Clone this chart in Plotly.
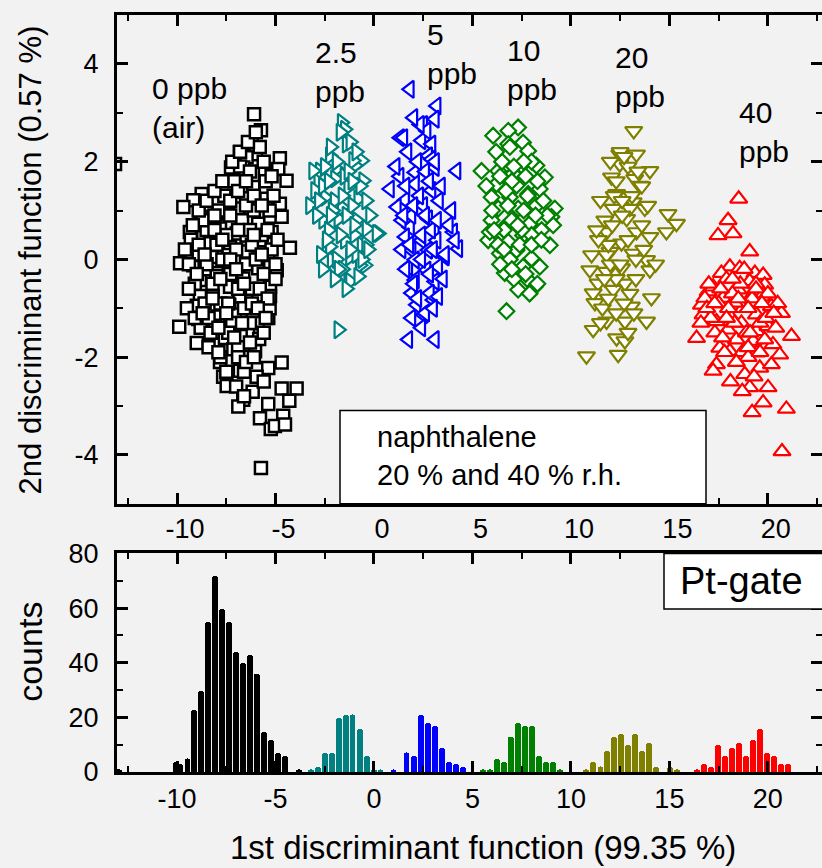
import plotly.graph_objects as go

# ---------------- data ----------------
air_x = [-6.09, -5.74, -6.21, -5.99, -6.81, -6.47, -4.78, -7.26, -6.64, -4.86, -5.54, -4.44, -6.55, -6.13,
         -8.75, -9.18, -9.68, -7.06, -6.47, -5.46, -4.78, -6.89, -8.16, -7.40, -5.28, -4.69, -8.84, -5.88,
         -9.35, -8.67, -7.82, -6.97, -6.47, -5.20, -4.27, -8.33, -7.31, -5.79, -9.85, -9.18, -8.24, -7.40,
         -6.47, -5.37, -7.99, -6.89, -5.88, -4.94, -8.75,
         -8.84, -7.99, -7.31, -6.64, -5.28, -8.84, -8.19, -6.84, -5.88, -5.28, -9.00, -8.33, -7.35, -5.46,
         -8.92, -7.91, -7.06, -6.16, -5.37, -9.89, -8.08, -7.06, -6.39, -9.00, -8.16, -7.57, -6.77, -5.83,
         -7.14, -6.04, -6.47, -7.82, -6.81, -5.37, -4.69, -7.66, -5.96, -7.48, -6.16, -4.69, -3.93, -6.64,
         -6.89, -5.37, -4.30, -5.79, -4.61, -5.24, -5.03, -4.52, -5.74,
         -9.3, -8.9, -8.6, -8.5, -8.2, -8.0, -7.8, -7.7, -7.5, -7.3, -7.2, -7.0, -6.9, -6.7, -6.6, -6.5,
         -6.3, -6.2, -6.1, -6.0, -5.9, -5.7, -5.6, -5.5, -5.3, -5.2, -5.1, -8.8, -8.4, -8.7, -9.1, -9.4,
         -7.9, -7.6, -7.1, -6.8, -6.3, -5.8, -7.4, -6.9, -6.3, -5.6, -7.8, -6.6, -8.1, -8.6, -7.3, -6.2,
         -5.4, -5.0,
         -9.6, -9.2, -8.9, -8.5, -8.1, -7.7, -7.3, -6.9, -6.5, -6.1, -5.7, -5.3, -4.9,
         -9.4, -9.0, -8.6, -8.2, -7.8, -7.4, -7.0, -6.6, -6.2, -5.8, -5.4, -5.0,
         -9.5, -9.1, -8.7, -8.3, -7.9, -7.5, -7.1, -6.7, -6.3, -5.9, -5.5,
         -8.9, -8.5, -8.1, -7.7, -7.3, -6.9, -6.5, -6.1, -5.7,
         -7.2, -6.8, -6.4, -6.0, -5.6, -5.2,
         -6.9, -6.5, -6.1, -5.6,
         -8.4, -7.9, -7.5, -7.0, -6.6,
         -13.15]
air_y = [2.97, 2.64, 2.38, 2.15, 2.19, 2.09, 2.07, 1.88, 1.88, 1.85, 1.77, 1.61, 1.70, 1.48,
         1.34, 1.21, 1.07, 1.14, 1.25, 1.24, 1.14, 1.04, 0.87, 0.93, 0.87, 0.87, 0.73, 0.73,
         0.56, 0.53, 0.63, 0.53, 0.49, 0.56, 0.24, 0.33, 0.26, 0.39, -0.08, -0.12, 0.05, 0.09,
         0.16, 0.09, -0.28, -0.22, -0.18, -0.22, 0.09,
         -0.42, -0.34, -0.56, -0.39, -0.56, -0.75, -0.75, -0.76, -0.81, -0.75, -0.95, -1.00, -0.93, -0.98,
         -1.22, -1.17, -1.13, -1.08, -1.20, -1.38, -1.36, -1.40, -1.54, -1.71, -1.74, -1.61, -1.57, -1.63,
         -1.84, -1.88, -1.99, -2.10, -2.28, -2.22, -2.11, -2.40, -2.40, -2.59, -2.71, -2.64, -2.64, -2.87,
         -3.01, -2.96, -2.89, -3.25, -3.20, -3.47, -3.41, -3.38, -4.27,
         0.4, 0.1, -0.2, 0.6, -0.5, 0.3, -0.9, 0.0, 0.5, -0.3, -1.3, 0.2, -0.6, 0.8, -1.0, -0.1,
         0.6, -0.6, 1.0, 0.0, -1.3, 0.5, -0.3, 1.6, -1.0, 0.2, 1.3, -1.4, -1.2, 0.8, -0.5, -0.1,
         1.0, 1.3, 1.6, 1.9, 1.8, 2.3, -1.5, -1.8, -1.3, -1.5, -2.0, -2.3, 0.6, -0.9, 0.9, 0.3,
         0.6, -0.4,
         0.2, 0.7, 0.3, -0.1, 0.9, 0.4, 0.0, 0.6, 1.1, 0.5, 0.1, 1.0, 0.4,
         -0.6, -0.3, 0.1, -0.8, -0.4, -0.9, -0.2, -0.5, -0.9, -0.6, -0.8, -0.1,
         -1.0, -1.2, -1.1, -1.5, -1.4, -1.1, -1.6, -1.3, -1.7, -1.0, -1.2,
         1.0, 1.2, 1.4, 1.6, 1.2, 1.4, 1.6, 1.3, 1.1,
         2.0, 2.2, 2.4, 2.6, 2.0, 1.7,
         -2.0, -2.1, -2.0, -2.5,
         -1.8, -1.9, -2.3, -2.6, -2.8,
         1.95]

ppb2_5_x = [-1.64, -1.48, -1.39, -2.24, -0.63, -2.75, -1.90, -0.97, -2.83, -1.98, -1.31, -0.55, -3.25, -2.49,
            -1.64, -0.80, -2.58, -1.81, -0.89, 0.22, -0.38, -2.41, -1.48, -0.63, -2.15, -1.22, -0.46, -1.31,
            -1.81, -2.99, -1.06, -3.09, 0.13, -2.24, -0.72, -1.22,
            -2.6, -2.0, -1.5, -1.1, -2.3, -1.7, -1.0, -2.7, -1.9, -0.9, -1.6, -2.2, -1.2, -0.4,
            -2.9, -0.2, -1.4, -2.1, -0.8, -2.6,
            -2.5, -1.9, -1.3, -0.7, -2.8, -2.2, -1.6, -1.0, -0.4, -2.4, -1.8, -1.2, -0.6, -2.0,
            -1.4, -0.9, -1.7, -1.1, -2.3, -0.3]
ppb2_5_y = [2.80, 2.66, 2.36, 2.12, 2.02, 1.81, 1.85, 1.92, 1.58, 1.65, 1.48, 1.61, 1.10, 1.27,
            1.07, 1.24, 0.80, 0.83, 0.80, 0.53, 0.63, 0.26, 0.39, 0.29, -0.01, 0.05, -0.12, -0.45,
            -1.44, 1.41, 2.02, 1.81, 0.53, 0.26, -0.12, -0.45,
            1.5, 1.2, 1.7, 1.1, 0.6, 0.5, 0.5, 0.1, 0.0, 0.1, -0.2, 2.3, 2.4, 1.2,
            0.9, 0.9, 0.9, 1.0, -0.35, -0.2,
            1.9, 2.0, 1.8, 1.5, 1.2, 0.9, 1.3, 0.7, 0.3, 0.4, -0.2, 0.2, 0.0, -0.4,
            -0.6, 2.2, 2.6, 1.6, 1.6, 0.2]

ppb5_x = [3.18, 3.09, 2.50, 1.32, 2.41, 2.92, 2.75, 4.19, 2.08, 3.09, 0.81, 2.08, 2.92, 1.58, 2.50, 3.93,
          1.66, 2.75, 1.83, 3.09, 4.02, 1.58, 2.41, 4.28, 1.91, 2.75, 3.60, 1.74, 2.67, 2.08, 3.09, 1.91,
          3.00, 2.16, 2.50, 1.74, 3.09, 2.67, 2.92, 1.16, 1.41, 3.18, 4.11, 2.08, 3.26, 2.84, 3.26,
          1.82, 2.33, 1.49,
          1.3, 2.3, 3.3, 1.9, 2.9, 1.4, 2.4, 3.5, 2.0, 2.6, 1.9, 3.1, 1.7, 2.6,
          1.1, 1.6, 2.2, 2.8, 3.4, 1.5, 2.0, 2.6, 3.2, 3.8, 1.8, 2.4, 3.0, 3.6, 2.2, 2.8,
          1.6, 2.4, 3.0, 2.0]
ppb5_y = [3.14, 2.87, 2.76, 2.49, 2.43, 2.36, 2.12, 1.81, 1.78, 1.88, 1.44, 1.54, 1.41, 1.21, 1.10, 1.00,
          0.90, 0.83, 0.66, 0.63, 0.56, 0.46, 0.39, 0.22, 0.19, 0.19, 0.05, -0.15, -0.22, -0.42, -0.45, -0.69,
          -0.83, -0.93, -1.13, -1.64, -1.64, 2.63, 2.05, 1.07, 0.80, 0.39, 0.39, -0.01, -0.15, -0.69, -0.76,
          3.48, 2.76, 2.49,
          1.7, 1.3, 1.2, 0.9, 0.6, 0.2, 0.5, -0.4, -0.5, -1.1, -1.2, 2.0, 2.2, 1.8,
          1.9, 1.5, 2.0, 1.6, 1.5, 0.9, 1.1, 0.9, 0.8, 0.7, 0.3, 0.0, 0.2, 0.1, -0.8, -0.3,
          -0.2, -1.4, -1.0, 2.9]

ppb10_x = [7.32, 6.82, 6.05, 6.82, 7.57, 7.83, 5.46, 6.56, 7.49, 8.25, 8.68, 6.82, 6.22, 7.24, 8.42, 5.97,
           6.90, 7.83, 6.31, 7.32, 8.25, 9.18, 9.01, 5.97, 6.99, 7.91, 6.56, 8.51, 5.80, 6.82, 7.57, 8.25,
           8.93, 7.24, 8.00, 7.57, 8.42, 6.64, 7.83, 7.32, 8.17, 6.73, 6.31, 7.07, 5.88, 6.39, 9.10,
           6.5, 7.0, 7.7, 6.0, 6.6, 7.4, 8.0, 8.6, 6.9, 7.6, 6.3, 8.3, 7.9, 7.1, 6.7, 8.0,
           6.2, 6.9, 7.6, 8.3, 5.7, 6.4, 7.1, 7.8, 8.8, 6.1, 6.8, 7.5, 8.2, 6.6, 7.3, 8.0,
           7.0, 7.7, 6.4, 8.5]
ppb10_y = [2.70, 2.63, 2.53, 2.36, 2.39, 2.22, 1.81, 1.85, 1.92, 1.92, 1.68, 1.65, 1.54, 1.51, 1.44, 1.27,
           1.27, 1.34, 1.04, 1.04, 1.10, 1.04, 0.87, 0.80, 0.80, 0.73, 0.63, 0.60, 0.39, 0.36, 0.49, 0.39,
           0.29, 0.19, 0.02, -0.15, -0.15, -0.28, -0.42, -0.62, -0.56, -1.06, 1.81, 1.75, 0.56, 0.12, 0.70,
           2.0, 1.6, 1.7, 1.0, 0.6, 0.3, 0.5, 1.2, 0.0, 1.0, 0.3, -0.5, -0.7, -0.4, 1.4, 2.0,
           2.2, 2.3, 2.0, 1.6, 1.5, 1.7, 1.9, 1.3, 0.9, 0.6, 1.1, 0.6, 0.9, 0.2, 0.7, 0.3,
           -0.2, -0.3, -0.1, 0.4]

ppb20_x = [13.19, 12.48, 13.33, 14.01, 12.48, 12.06, 13.24, 12.32, 13.16, 13.75, 14.93, 15.36, 11.72, 14.85,
           12.15, 12.83, 11.81, 13.33, 14.01, 12.57, 11.05, 11.98, 13.16, 13.84, 10.96, 11.81, 12.57, 14.01,
           11.38, 12.74, 11.13, 12.15, 14.09, 11.22, 13.07, 11.81, 12.74, 13.84, 11.13, 12.32, 12.74, 10.79,
           12.40, 12.99, 11.81, 13.50,
           12.2, 12.9, 13.6, 11.9, 12.6, 13.3, 12.3, 13.0, 11.6, 12.9, 14.3, 12.0, 13.6, 12.5, 11.4,
           12.0, 12.7, 13.4, 11.5, 12.3, 13.1, 13.9, 11.3, 12.1, 12.9, 13.7, 11.7, 12.5, 13.3, 11.9,
           12.7, 11.5, 12.3, 13.2, 12.6]
ppb20_y = [2.63, 2.15, 2.15, 1.81, 1.95, 1.68, 1.65, 1.34, 1.17, 1.04, 0.93, 0.73, 0.80, 0.56,
           1.04, 0.83, 0.56, 0.56, 0.46, 0.33, 0.09, 0.16, 0.12, -0.01, -0.22, -0.25, -0.18, -0.22,
           -0.49, -0.49, -0.69, -0.62, -0.79, -0.89, -0.96, -1.27, -1.27, -1.27, -1.44, -1.61, -1.67, -1.98,
           -1.95, 1.04, 0.09, 1.51,
           1.3, 1.9, 1.5, 0.3, 0.9, 0.0, -0.4, -0.7, -1.0, -1.5, -0.1, -0.1, 0.7, 2.2, 0.4,
           2.0, 2.1, 1.8, 1.2, 1.6, 1.3, 1.1, 0.6, 0.7, 0.4, 0.2, -0.4, -0.1, -0.4, -0.8,
           -0.9, -1.3, -1.1, -1.1, 1.2]

ppb40_x = [18.52, 17.98, 17.47, 18.23, 19.08, 18.07, 18.57, 17.64, 19.34, 19.76, 16.97, 18.49, 19.08, 19.84,
           16.63, 17.72, 18.74, 19.68, 20.18, 20.69, 16.71, 17.39, 18.15, 19.42, 16.38, 17.31, 17.98, 18.66,
           19.42, 20.01, 21.20, 17.56, 18.40, 19.25, 20.26, 18.07, 19.42, 20.60, 17.39, 17.22, 18.83, 19.59,
           20.18, 19.08, 20.01, 19.76, 19.20, 20.94, 20.72, 16.80, 17.22, 18.32, 19.17, 18.91, 19.84,
           17.5, 18.0, 18.6, 19.2, 17.9, 18.3, 19.0, 19.6, 17.1, 18.7, 19.9, 17.7, 20.4, 18.2, 19.4, 16.9,
           19.0, 20.5,
           17.0, 17.6, 18.2, 18.8, 19.4, 20.0, 17.3, 17.9, 18.5, 19.1, 19.7, 20.3, 17.8, 18.4, 19.0, 19.6,
           18.1, 18.7, 19.3, 16.6]
ppb40_y = [1.24, 0.80, 0.49, 0.53, 0.16, -0.15, -0.18, -0.28, -0.28, -0.32, -0.66, -0.62, -0.45, -0.52,
           -0.93, -0.79, -1.00, -0.76, -0.96, -1.10, -1.13, -1.27, -1.20, -1.13, -1.61, -1.50, -1.44, -1.30,
           -1.47, -1.37, -1.57, -1.81, -1.64, -1.67, -1.74, -1.88, -1.91, -1.95, -2.15, -2.28, -2.35, -2.22,
           -2.15, -2.62, -2.62, -2.93, -3.13, -3.06, -3.93, -0.79, -0.56, -0.89, -0.76, -1.50, -1.64,
           -0.9, -1.0, -0.5, -0.8, -0.4, -1.3, -1.0, -1.3, -1.2, -1.9, -1.2, -1.6, -1.4, -0.7, -0.5, -1.0,
           -2.0, -0.9,
           -0.5, -0.6, -0.4, -0.2, -0.6, -0.7, -0.9, -1.2, -0.8, -1.5, -0.9, -1.1, -1.9, -2.1, -1.8, -1.9,
           -2.5, -2.7, -2.4, -1.3]

hist_air_x = [-12.95, -10.05, -9.83, -9.47, -9.12, -8.78, -8.42, -8.06, -7.70, -7.36, -7.00, -6.65, -6.29,
              -5.93, -5.58, -5.22, -4.86, -4.52, -3.81]
hist_air_n = [1, 4, 3, 5, 23, 30, 55, 72, 60, 55, 44, 40, 43, 36, 15, 12, 7, 6, 1]
hist2_5_x = [-3.21, -2.86, -2.50, -2.14, -1.79, -1.43, -1.09, -0.73, -0.37, -0.01, 0.33]
hist2_5_n = [1, 2, 7, 7, 20, 21, 21, 16, 6, 1, 1]
hist5_x = [0.99, 1.65, 2.02, 2.40, 2.76, 3.10, 3.45, 3.81, 4.17, 4.52]
hist5_n = [1, 7, 6, 21, 18, 17, 9, 4, 3, 2]
hist10_x = [5.53, 5.89, 6.24, 6.60, 6.96, 7.31, 7.67, 8.03, 8.37, 8.72, 9.08, 9.44]
hist10_n = [1, 1, 5, 4, 13, 18, 17, 17, 6, 4, 4, 1]
hist20_x = [10.78, 11.14, 11.50, 11.85, 12.21, 12.55, 12.91, 13.27, 13.62, 13.98, 14.34, 15.03, 15.39]
hist20_n = [1, 4, 2, 8, 13, 14, 10, 14, 8, 11, 2, 2, 1]
hist40_x = [16.41, 16.77, 17.13, 17.47, 17.82, 18.18, 18.54, 18.89, 19.23, 19.59, 19.95, 20.31, 20.66, 21.02]
hist40_n = [1, 3, 2, 10, 6, 9, 11, 6, 12, 16, 7, 6, 3, 3]

x_tick_vals = [-10, -5, 0, 5, 10, 15, 20]
x_tick_text = ["-10", "-5", "0", "5", "10", "15", "20"]
y1_tick_vals = [-4, -2, 0, 2, 4]
y1_tick_text = ["-4", "-2", "0", "2", "4"]
y2_tick_vals = [0, 20, 40, 60, 80]
y2_tick_text = ["0", "20", "40", "60", "80"]

group_labels = ["0 ppb<br>(air)", "2.5<br>ppb", "5<br>ppb", "10<br>ppb", "20<br>ppb", "40<br>ppb"]
colors = ["#000000", "#008080", "#0000ff", "#008000", "#808000", "#ff0000"]
symbols = ["square", "triangle-right", "triangle-left", "diamond", "triangle-down", "triangle-up"]

# ---------------- layout geometry (pixels) ----------------
W, H = 822, 868
ML, MR, MT, MB = 117, 0, 10, 96
def pxx(p):
    return (p - ML) / (W - ML - MR)
def pxy(p):
    return (H - MB - p) / (H - MT - MB)

FONT = "Liberation Sans, Arial, Helvetica, sans-serif"
BG = "#f2f2f2"

fig = go.Figure()

scatter_sets = [(air_x, air_y), (ppb2_5_x, ppb2_5_y), (ppb5_x, ppb5_y), (ppb10_x, ppb10_y),
                (ppb20_x, ppb20_y), (ppb40_x, ppb40_y)]
sizes = [12, 15, 15, 12, 15, 15]
lws = [2.5, 2.2, 2.2, 2.2, 2.2, 2.2]
for (xs, ys), c, s, sz, lw in zip(scatter_sets, colors, symbols, sizes, lws):
    fig.add_trace(go.Scatter(x=xs, y=ys, mode="markers", xaxis="x", yaxis="y",
                             marker=dict(symbol=s, size=sz, color="white",
                                         line=dict(color=c, width=lw)),
                             showlegend=False, hoverinfo="skip", cliponaxis=True))

hist_sets = [(hist_air_x, hist_air_n), (hist2_5_x, hist2_5_n), (hist5_x, hist5_n),
             (hist10_x, hist10_n), (hist20_x, hist20_n), (hist40_x, hist40_n)]
for (xs, ns), c in zip(hist_sets, colors):
    fig.add_trace(go.Bar(x=xs, y=ns, xaxis="x2", yaxis="y2", width=0.3,
                         marker=dict(color=c, line=dict(width=0), cornerradius="50%"),
                         showlegend=False, hoverinfo="skip"))

# dummy traces for right-side tick axes
fig.add_trace(go.Scatter(x=[], y=[], xaxis="x", yaxis="y3", showlegend=False))
fig.add_trace(go.Scatter(x=[], y=[], xaxis="x2", yaxis="y4", showlegend=False))

XR = [-13.05, 22.75]
tickfont = dict(family=FONT, size=27, color="black")

def xaxis_common(anchor, shift, standoff):
    return dict(range=XR, anchor=anchor, domain=[0, 1], tickmode="array", tickvals=x_tick_vals,
                ticktext=x_tick_text,
                ticks="inside", ticklen=11, tickwidth=2.5, tickcolor="black",
                minor=dict(tickmode="linear", tick0=0, dtick=2.5, ticks="inside", ticklen=6,
                           tickwidth=2, tickcolor="black"),
                showline=True, linewidth=3, linecolor="black", mirror="ticks",
                showgrid=False, zeroline=False, tickfont=tickfont, ticklabelshift=shift,
                ticklabelstandoff=standoff, fixedrange=True)

def yaxis_common(rng, vals, text, dtick_minor, domain):
    return dict(range=rng, domain=domain, tickmode="array", tickvals=vals, ticktext=text,
                ticks="inside", ticklen=11, tickwidth=2.5, tickcolor="black",
                minor=dict(tickmode="linear", tick0=0, dtick=dtick_minor, ticks="inside", ticklen=6,
                           tickwidth=2, tickcolor="black"),
                showline=True, linewidth=3, linecolor="black", mirror=False,
                showgrid=False, zeroline=False, tickfont=tickfont, ticklabelstandoff=10, fixedrange=True)

dom_top = [pxy(502), 1.0]
dom_bot = [0.0, pxy(552)]

y1 = yaxis_common([-5, 5], y1_tick_vals, y1_tick_text, 1, dom_top)
y1["anchor"] = "x"
y2 = yaxis_common([0, 80], y2_tick_vals, y2_tick_text, 10, dom_bot)
y2["anchor"] = "x2"
y3 = yaxis_common([-5, 5], y1_tick_vals, y1_tick_text, 1, dom_top)
y3.update(anchor="x", overlaying="y", side="right", showline=False, showticklabels=False)
y4 = yaxis_common([0, 80], y2_tick_vals, y2_tick_text, 10, dom_bot)
y4.update(anchor="x2", overlaying="y2", side="right", showline=False, showticklabels=False)

x1 = xaxis_common("y", 8, -1)
x2 = xaxis_common("y2", 0, 1)

annotations = []
label_pos = [(150, 104), (313, 67), (425, 49), (505, 65), (613, 72), (737, 128)]
for txt, (lx, ly) in zip(group_labels, label_pos):
    annotations.append(dict(text=txt, x=pxx(lx), y=pxy(ly), xref="paper", yref="paper",
                            xanchor="left", yanchor="middle", align="left", showarrow=False,
                            font=dict(family=FONT, size=30, color="black")))
annotations.append(dict(text="naphthalene<br>20 % and 40 % r.h.", x=pxx(375), y=pxy(454),
                        xref="paper", yref="paper", xanchor="left", yanchor="middle", align="left",
                        showarrow=False, font=dict(family=FONT, size=29, color="black")))
annotations.append(dict(text="Pt-gate", x=pxx(678), y=pxy(580), xref="paper", yref="paper",
                        xanchor="left", yanchor="middle", align="left", showarrow=False,
                        font=dict(family=FONT, size=38, color="black")))
annotations.append(dict(text="2nd discriminant function (0.57 %)", x=pxx(30), y=pxy(257),
                        xref="paper", yref="paper", xanchor="center", yanchor="middle",
                        textangle=-90, showarrow=False, font=dict(family=FONT, size=31, color="black")))
annotations.append(dict(text="counts", x=pxx(30), y=pxy(651), xref="paper", yref="paper",
                        xanchor="center", yanchor="middle", textangle=-90, showarrow=False,
                        font=dict(family=FONT, size=34, color="black")))
annotations.append(dict(text="1st discriminant function (99.35 %)", x=pxx(483), y=pxy(848),
                        xref="paper", yref="paper", xanchor="center", yanchor="middle",
                        showarrow=False, font=dict(family=FONT, size=33, color="black")))

shapes = [
    dict(type="rect", xref="paper", yref="paper", x0=pxx(340), x1=pxx(706), y0=pxy(502), y1=pxy(408),
         fillcolor="white", line=dict(color="black", width=1.5), layer="above"),
    dict(type="rect", xref="paper", yref="paper", x0=pxx(664), x1=pxx(840), y0=pxy(608), y1=pxy(552),
         fillcolor="white", line=dict(color="black", width=1.5), layer="above"),
]

fig.update_layout(
    width=W, height=H, margin=dict(l=ML, r=MR, t=MT, b=MB, pad=0),
    paper_bgcolor=BG, plot_bgcolor=BG, showlegend=False, bargap=0,
    xaxis=x1, xaxis2=x2, yaxis=y1, yaxis2=y2, yaxis3=y3, yaxis4=y4,
    annotations=annotations, shapes=shapes,
    font=dict(family=FONT, color="black"),
)

fig.write_html("out.html")
